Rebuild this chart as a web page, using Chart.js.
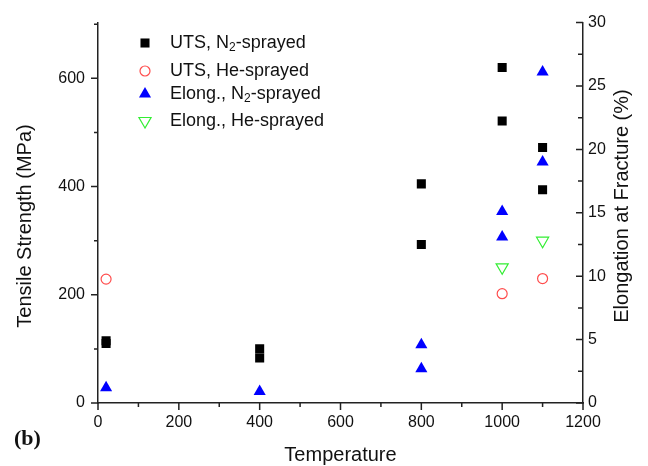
<!DOCTYPE html>
<html>
<head>
<meta charset="utf-8">
<script src="https://cdn.jsdelivr.net/npm/chart.js@4.4.1/dist/chart.umd.min.js"></script>
<style>
  html, body { margin: 0; padding: 0; background: #fff; }
  #wrap { width: 648px; height: 466px; }
</style>
</head>
<body>
<div id="wrap"><canvas id="chart" width="648" height="466"></canvas></div>
<script>
// Data
const utsN2Temp = [20, 20, 400, 400, 800, 800, 1000, 1000, 1100, 1100];
const utsN2 = [115, 110, 100, 83, 405, 293, 620, 521, 472, 394];
const utsHeTemp = [20, 1000, 1100];
const utsHe = [229, 202, 230];
const elongN2Temp = [20, 400, 800, 800, 1000, 1000, 1100, 1100];
const elongN2 = [1.2, 0.9, 4.6, 2.7, 15.1, 13.1, 26.1, 19.0];
const elongHeTemp = [1000, 1100];
const elongHe = [10.7, 12.8];

// Tick labels
const xTicks = [0, 200, 400, 600, 800, 1000, 1200];
const leftTicks = [0, 200, 400, 600];
const rightTicks = [0, 5, 10, 15, 20, 25, 30];

const toPoints = (xs, ys) => xs.map((x, i) => ({ x: x, y: ys[i] }));

const FONT = '"Liberation Sans", Arial, sans-serif';

// Ticks (major + minor) drawn on the scales, titles and the inset legend
const decorations = {
    id: 'decorations',
    afterDraw(chart) {
        const ctx = chart.ctx;
        const area = chart.chartArea;
        const sx = chart.scales.x, sy = chart.scales.y, sy1 = chart.scales.y1;
        ctx.save();
        ctx.strokeStyle = '#222';
        ctx.lineWidth = 1.5;
        ctx.beginPath();
        // bottom axis, outward
        for (let v = 0; v <= 1200; v += 100) {
            const px = sx.getPixelForValue(v);
            const len = v % 200 === 0 ? 7 : 4;
            ctx.moveTo(px, area.bottom);
            ctx.lineTo(px, area.bottom + len);
        }
        // left axis, outward
        for (let v = 0; v <= 700; v += 100) {
            const py = sy.getPixelForValue(v);
            const len = v % 200 === 0 ? 7 : 4;
            ctx.moveTo(area.left, py);
            ctx.lineTo(area.left - len, py);
        }
        // right axis, inward
        for (let v = 0; v <= 30; v += 2.5) {
            const py = sy1.getPixelForValue(v);
            const len = v % 5 === 0 ? 7 : 5;
            ctx.moveTo(area.right, py);
            ctx.lineTo(area.right - len, py);
        }
        ctx.stroke();

        // axis titles
        ctx.fillStyle = '#111';
        ctx.font = '20px ' + FONT;
        ctx.textAlign = 'center';
        ctx.textBaseline = 'middle';
        ctx.fillText('Temperature', (area.left + area.right) / 2, 455);
        ctx.save();
        ctx.translate(25, 226);
        ctx.rotate(-Math.PI / 2);
        ctx.fillText('Tensile Strength (MPa)', 0, 0);
        ctx.restore();
        ctx.save();
        ctx.translate(622, 206);
        ctx.rotate(-Math.PI / 2);
        ctx.fillText('Elongation at Fracture (%)', 0, 0);
        ctx.restore();

        // panel label
        ctx.font = 'bold 22px "Liberation Serif", "Times New Roman", serif';
        ctx.textAlign = 'left';
        ctx.fillText('(b)', 14, 439);

        // legend
        const rows = [
            { ds: 0, y: 43, parts: [['UTS, N', 0], ['2', 1], ['-sprayed', 0]] },
            { ds: 1, y: 71, parts: [['UTS, He-sprayed', 0]] },
            { ds: 2, y: 94, parts: [['Elong., N', 0], ['2', 1], ['-sprayed', 0]] },
            { ds: 3, y: 121, parts: [['Elong., He-sprayed', 0]] }
        ];
        rows.forEach(row => {
            const ds = chart.data.datasets[row.ds];
            ctx.save();
            ctx.fillStyle = ds.pointBackgroundColor;
            ctx.strokeStyle = ds.pointBorderColor;
            ctx.lineWidth = ds.pointBorderWidth;
            Chart.helpers.drawPoint(ctx, {
                pointStyle: ds.pointStyle,
                radius: ds.pointRadius,
                rotation: ds.pointRotation || 0,
                borderWidth: ds.pointBorderWidth
            }, 145, row.y);
            ctx.restore();
            let x = 170;
            ctx.textBaseline = 'middle';
            ctx.fillStyle = '#111';
            row.parts.forEach(([txt, sub]) => {
                ctx.font = (sub ? '12px ' : '18px ') + FONT;
                ctx.fillText(txt, x, row.y + (sub ? 5 : 0));
                x += ctx.measureText(txt).width;
            });
        });
        ctx.restore();
    }
};

new Chart(document.getElementById('chart'), {
    type: 'scatter',
    data: {
        datasets: [
            {
                label: 'UTS, N2-sprayed',
                data: toPoints(utsN2Temp, utsN2),
                yAxisID: 'y',
                pointStyle: 'rect',
                pointRadius: 6.4,
                pointBackgroundColor: '#000000',
                pointBorderColor: '#000000',
                pointBorderWidth: 0
            },
            {
                label: 'UTS, He-sprayed',
                data: toPoints(utsHeTemp, utsHe),
                yAxisID: 'y',
                pointStyle: 'circle',
                pointRadius: 5,
                pointBackgroundColor: 'rgba(0,0,0,0)',
                pointBorderColor: '#ff4d4d',
                pointBorderWidth: 1.2
            },
            {
                label: 'Elong., N2-sprayed',
                data: toPoints(elongN2Temp, elongN2),
                yAxisID: 'y1',
                pointStyle: 'triangle',
                pointRadius: 7,
                pointBackgroundColor: '#0000ff',
                pointBorderColor: '#0000ff',
                pointBorderWidth: 0
            },
            {
                label: 'Elong., He-sprayed',
                data: toPoints(elongHeTemp, elongHe),
                yAxisID: 'y1',
                pointStyle: 'triangle',
                pointRotation: 180,
                pointRadius: 7,
                pointBackgroundColor: 'rgba(0,0,0,0)',
                pointBorderColor: '#33ee33',
                pointBorderWidth: 1.2
            }
        ]
    },
    options: {
        responsive: false,
        animation: false,
        events: [],
        layout: { padding: { top: 15, left: 0, right: 0, bottom: 0 } },
        plugins: { legend: { display: false }, tooltip: { enabled: false } },
        scales: {
            x: {
                type: 'linear',
                min: 0,
                max: 1200,
                afterBuildTicks: s => { s.ticks = xTicks.map(v => ({ value: v })); },
                afterFit: s => { s.height = 63; },
                grid: { display: false, drawTicks: false },
                border: { display: true, color: '#222', width: 1.5 },
                ticks: {
                    padding: 10, color: '#111', font: { family: FONT, size: 16 }, maxRotation: 0,
                    callback: v => String(v)
                }
            },
            y: {
                position: 'left',
                min: 0,
                max: 703,
                afterBuildTicks: s => { s.ticks = leftTicks.map(v => ({ value: v })); },
                afterFit: s => { s.width = 98; },
                grid: { display: false, drawTicks: false },
                border: { display: true, color: '#222', width: 1.5 },
                ticks: { padding: 13, color: '#111', font: { family: FONT, size: 16 }, callback: v => String(v) }
            },
            y1: {
                position: 'right',
                min: 0,
                max: 30,
                afterBuildTicks: s => { s.ticks = rightTicks.map(v => ({ value: v })); },
                afterFit: s => { s.width = 65; },
                grid: { display: false, drawTicks: false },
                border: { display: true, color: '#222', width: 1.5 },
                ticks: { padding: 5, color: '#111', font: { family: FONT, size: 16 }, callback: v => String(v) }
            }
        }
    },
    plugins: [decorations]
});
</script>
</body>
</html>
